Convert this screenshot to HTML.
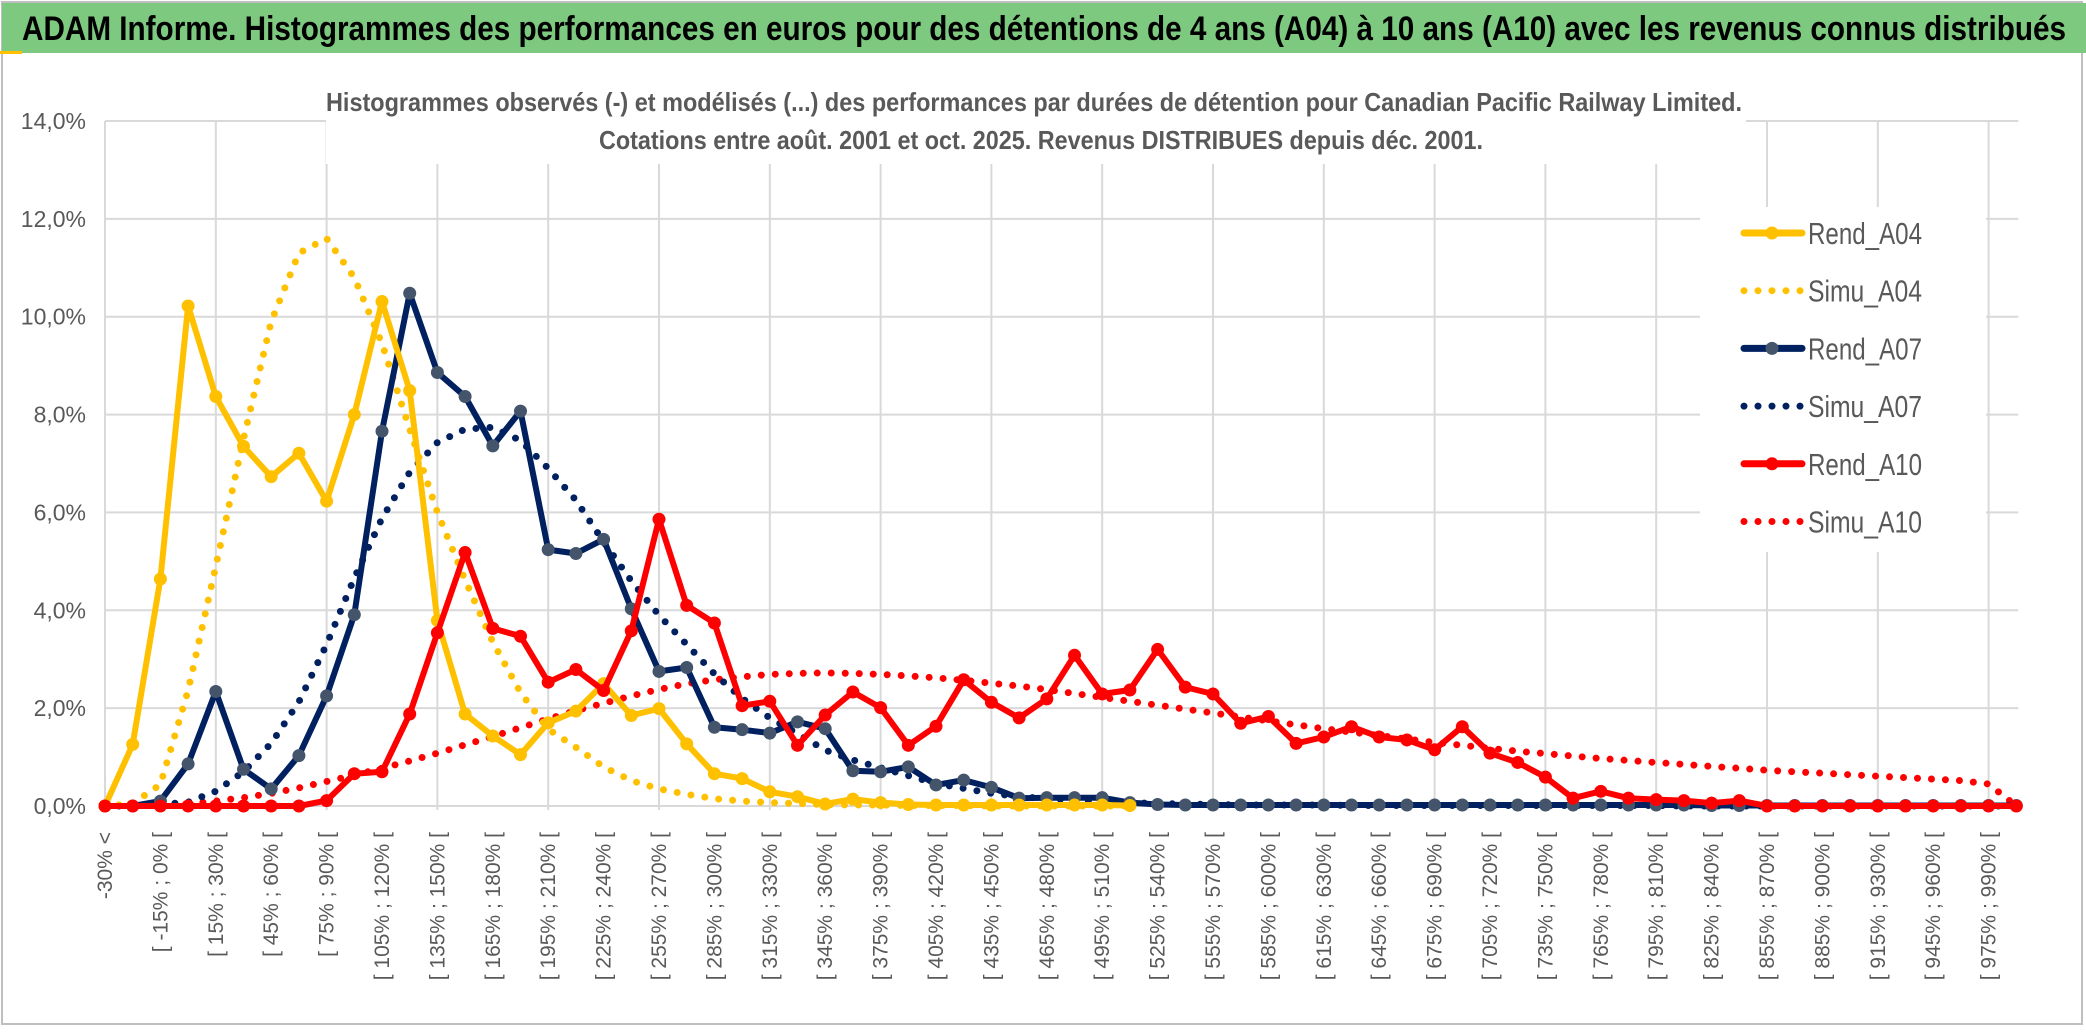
<!DOCTYPE html>
<html><head><meta charset="utf-8"><title>ADAM Informe</title>
<style>
html,body{margin:0;padding:0;background:#fff;}
svg{display:block;font-family:"Liberation Sans",sans-serif;}
</style></head>
<body>
<svg id="chart" width="2086" height="1033" viewBox="0 0 2086 1033" xmlns="http://www.w3.org/2000/svg">
  <rect x="0" y="0" width="2086" height="1033" fill="#fff"/>
  <rect x="2" y="2" width="2080" height="1022" fill="none" stroke="#bfbfbf" stroke-width="2"/>
  <rect x="2" y="3" width="2084" height="50" fill="#7dc97f"/>
  <rect x="0" y="51" width="22" height="3" fill="#ffc000"/>
  <text x="22" y="40" font-size="34" font-weight="bold" fill="#000" textLength="2044" lengthAdjust="spacingAndGlyphs">ADAM Informe. Histogrammes des performances en euros pour des détentions de 4 ans (A04) à 10 ans (A10) avec les revenus connus distribués</text>
  <g id="grid"></g>
  <rect x="326" y="80" width="1420" height="84" fill="#fff"/>
  <text x="326" y="111" font-size="26" font-weight="bold" fill="#595959" textLength="1416" lengthAdjust="spacingAndGlyphs">Histogrammes observés (-) et modélisés (...) des performances par durées de détention pour Canadian Pacific Railway Limited.</text>
  <text x="599" y="149" font-size="26" font-weight="bold" fill="#595959" textLength="884" lengthAdjust="spacingAndGlyphs">Cotations entre août. 2001 et oct. 2025. Revenus DISTRIBUES depuis déc. 2001.</text>
  <g id="yaxis"></g>
  <g id="xaxis"></g>
  <g id="series"></g>
  <g id="legend"></g>
</svg>
<script>
const categories = ["-30% <","[ -30% ; -15% [","[ -15% ; 0% [","[ 0% ; 15% [","[ 15% ; 30% [","[ 30% ; 45% [","[ 45% ; 60% [","[ 60% ; 75% [","[ 75% ; 90% [","[ 90% ; 105% [","[ 105% ; 120% [","[ 120% ; 135% [","[ 135% ; 150% [","[ 150% ; 165% [","[ 165% ; 180% [","[ 180% ; 195% [","[ 195% ; 210% [","[ 210% ; 225% [","[ 225% ; 240% [","[ 240% ; 255% [","[ 255% ; 270% [","[ 270% ; 285% [","[ 285% ; 300% [","[ 300% ; 315% [","[ 315% ; 330% [","[ 330% ; 345% [","[ 345% ; 360% [","[ 360% ; 375% [","[ 375% ; 390% [","[ 390% ; 405% [","[ 405% ; 420% [","[ 420% ; 435% [","[ 435% ; 450% [","[ 450% ; 465% [","[ 465% ; 480% [","[ 480% ; 495% [","[ 495% ; 510% [","[ 510% ; 525% [","[ 525% ; 540% [","[ 540% ; 555% [","[ 555% ; 570% [","[ 570% ; 585% [","[ 585% ; 600% [","[ 600% ; 615% [","[ 615% ; 630% [","[ 630% ; 645% [","[ 645% ; 660% [","[ 660% ; 675% [","[ 675% ; 690% [","[ 690% ; 705% [","[ 705% ; 720% [","[ 720% ; 735% [","[ 735% ; 750% [","[ 750% ; 765% [","[ 765% ; 780% [","[ 780% ; 795% [","[ 795% ; 810% [","[ 810% ; 825% [","[ 825% ; 840% [","[ 840% ; 855% [","[ 855% ; 870% [","[ 870% ; 885% [","[ 885% ; 900% [","[ 900% ; 915% [","[ 915% ; 930% [","[ 930% ; 945% [","[ 945% ; 960% [","[ 960% ; 975% [","[ 975% ; 990% [","[ 990% ; 1005% ["];
const yTicks = [0, 2, 4, 6, 8, 10, 12, 14];
const yTickLabels = ["0,0%","2,0%","4,0%","6,0%","8,0%","10,0%","12,0%","14,0%"];
const rendA04 = [0,1.26,4.64,10.22,8.37,7.35,6.73,7.21,6.23,8.0,10.31,8.49,3.79,1.88,1.43,1.05,1.7,1.94,2.5,1.85,1.99,1.27,0.66,0.56,0.29,0.19,0.04,0.14,0.07,0.03,0.02,0.02,0.02,0.02,0.02,0.02,0.02,0.01];
const simuA04 = [0,0.05,0.44,2.36,4.9,7.5,9.9,11.3,11.6,10.8,9.45,7.7,6.0,4.62,3.35,2.32,1.57,1.2,0.8,0.52,0.35,0.24,0.15,0.1,0.07,0.05,0.03,0.02,0.02,0.01,0.01,0.01,0,0,0,0,0,0];
const rendA07 = [0,0,0.1,0.86,2.34,0.75,0.35,1.03,2.25,3.91,7.66,10.48,8.86,8.37,7.36,8.07,5.24,5.16,5.45,4.03,2.75,2.83,1.61,1.56,1.49,1.72,1.58,0.72,0.7,0.8,0.43,0.53,0.38,0.16,0.17,0.17,0.17,0.07,0.03,0.02,0.02,0.02,0.02,0.02,0.02,0.02,0.02,0.02,0.02,0.02,0.02,0.02,0.02,0.02,0.02,0.02,0.02,0.02,0.01,0.01,0.01,0.01,0.01,0.01,0.01,0.01,0.01,0.01,0.01,0.01];
const simuA07 = [0,0,0.03,0.08,0.3,0.7,1.28,2.13,3.3,4.66,5.88,6.82,7.43,7.7,7.74,7.47,6.9,6.25,5.4,4.6,3.9,3.3,2.7,2.2,1.8,1.48,1.14,0.94,0.78,0.62,0.46,0.36,0.26,0.19,0.15,0.12,0.09,0.07,0.05,0.04,0.03,0.02,0.02,0.02,0.02,0.01,0.01,0.01,0.01,0.01,0.01,0.01,0.01,0.01,0.01,0.01,0.01,0,0,0,0,0,0,0,0,0,0,0,0,0];
const rendA10 = [0,0,0,0,0,0,0,0,0.11,0.66,0.7,1.88,3.54,5.18,3.63,3.47,2.53,2.79,2.36,3.58,5.86,4.1,3.74,2.05,2.14,1.24,1.86,2.33,2.01,1.24,1.63,2.58,2.12,1.8,2.19,3.08,2.29,2.37,3.2,2.43,2.29,1.69,1.83,1.28,1.41,1.62,1.41,1.35,1.15,1.62,1.08,0.89,0.59,0.16,0.3,0.16,0.13,0.11,0.06,0.11,0,0,0,0,0,0,0,0,0,0];
const simuA10 = [0,0.01,0.02,0.05,0.1,0.17,0.26,0.37,0.5,0.63,0.77,0.92,1.08,1.25,1.42,1.6,1.78,1.95,2.1,2.25,2.38,2.5,2.58,2.64,2.69,2.71,2.72,2.71,2.69,2.66,2.62,2.57,2.51,2.45,2.38,2.3,2.22,2.14,2.06,1.98,1.9,1.82,1.74,1.66,1.58,1.51,1.44,1.37,1.3,1.24,1.18,1.12,1.07,1.02,0.97,0.93,0.89,0.85,0.81,0.77,0.73,0.7,0.67,0.64,0.61,0.58,0.55,0.52,0.45,0];
const seriesNames = ["Rend_A04","Simu_A04","Rend_A07","Simu_A07","Rend_A10","Simu_A10"];

const NS = "http://www.w3.org/2000/svg";
const X0 = 105, DX = 27.7, Y0 = 806, YTOP = 121, YMAX = 14;
const xScale = i => X0 + i * DX;
const yScale = v => Y0 - v / YMAX * (Y0 - YTOP);
function mk(tag, attrs, parent){ const e = document.createElementNS(NS, tag); for (const k in attrs) e.setAttribute(k, attrs[k]); parent.appendChild(e); return e; }
const grid = document.getElementById('grid');
const xRight = xScale(categories.length - 1);
yTicks.forEach((t, k) => {
  const l = mk('line', {x1: X0, x2: xRight + 2, y1: yScale(t), y2: yScale(t), stroke: '#d9d9d9', 'stroke-width': 2}, grid);
  
  
});
for (let i = 0; i < categories.length; i += 4) {
  const l = mk('line', {x1: xScale(i), x2: xScale(i), y1: YTOP, y2: Y0 + 4, stroke: '#d9d9d9', 'stroke-width': 2}, grid);
  
  
}
const yaxis = document.getElementById('yaxis');
yTicks.forEach((t, k) => {
  const tx = mk('text', {x: 86, y: yScale(t) + 8, 'text-anchor': 'end', 'font-size': 23, fill: '#595959'}, yaxis);
  tx.textContent = yTickLabels[k];
  
  
});
const xaxis = document.getElementById('xaxis');
for (let i = 0; i < categories.length; i += 2) {
  const x = xScale(i) + 7, y = 832;
  const tx = mk('text', {x: x, y: y, 'text-anchor': 'end', 'font-size': 21, fill: '#595959', transform: `rotate(-90 ${x} ${y})`}, xaxis);
  tx.textContent = categories[i];
  
  
}
const sg = document.getElementById('series');
function pts(arr){ const p = []; arr.forEach((v, i) => { if (v !== null && v !== undefined) p.push(xScale(i).toFixed(1) + ',' + yScale(v).toFixed(1)); }); return p.join(' '); }
function dotted(arr, color, name){
  const pl = mk('polyline', {points: pts(arr), fill: 'none', stroke: color, 'stroke-width': 7, 'stroke-linecap': 'round', 'stroke-dasharray': '0 14', 'stroke-linejoin': 'round'}, sg);
  
  
}
function solid(arr, color, mcolor, name){
  const pl = mk('polyline', {points: pts(arr), fill: 'none', stroke: color, 'stroke-width': 6, 'stroke-linejoin': 'round', 'stroke-linecap': 'round'}, sg);
  
  
  arr.forEach((v, i) => {
    if (v === null || v === undefined) return;
    const c = mk('circle', {cx: xScale(i), cy: yScale(v), r: 6.5, fill: mcolor}, sg);
    
    
  });
}
dotted(simuA10, '#ff0000', 'simu-a10-line');
dotted(simuA07, '#002060', 'simu-a07-line');
dotted(simuA04, '#ffc000', 'simu-a04-line');
solid(rendA07, '#002060', '#44546a', 'rend-a07-line');
solid(rendA04, '#ffc000', '#ffc000', 'rend-a04-line');
solid(rendA10, '#ff0000', '#ff0000', 'rend-a10-line');

const lg = document.getElementById('legend');
const bg = mk('rect', {x: 1700, y: 207, width: 286, height: 345, fill: '#fff'}, lg);


const legColors = ['#ffc000','#ffc000','#002060','#002060','#ff0000','#ff0000'];
const legMarkers = ['#ffc000',null,'#44546a',null,'#ff0000',null];
seriesNames.forEach((n, k) => {
  const y = 233 + k * 57.7;
  const g = mk('g', {}, lg);
  
  
  if (legMarkers[k]) {
    mk('line', {x1: 1744, x2: 1802, y1: y, y2: y, stroke: legColors[k], 'stroke-width': 7, 'stroke-linecap': 'round'}, g);
    mk('circle', {cx: 1772, cy: y, r: 6.5, fill: legMarkers[k]}, g);
  } else {
    mk('line', {x1: 1744, x2: 1802, y1: y, y2: y, stroke: legColors[k], 'stroke-width': 7, 'stroke-linecap': 'round', 'stroke-dasharray': '0 14'}, g);
  }
  const t = mk('text', {x: 1808, y: y + 11, 'font-size': 31, fill: '#595959', textLength: 114, lengthAdjust: 'spacingAndGlyphs'}, g);
  t.textContent = n;
});
</script>
</body></html>
